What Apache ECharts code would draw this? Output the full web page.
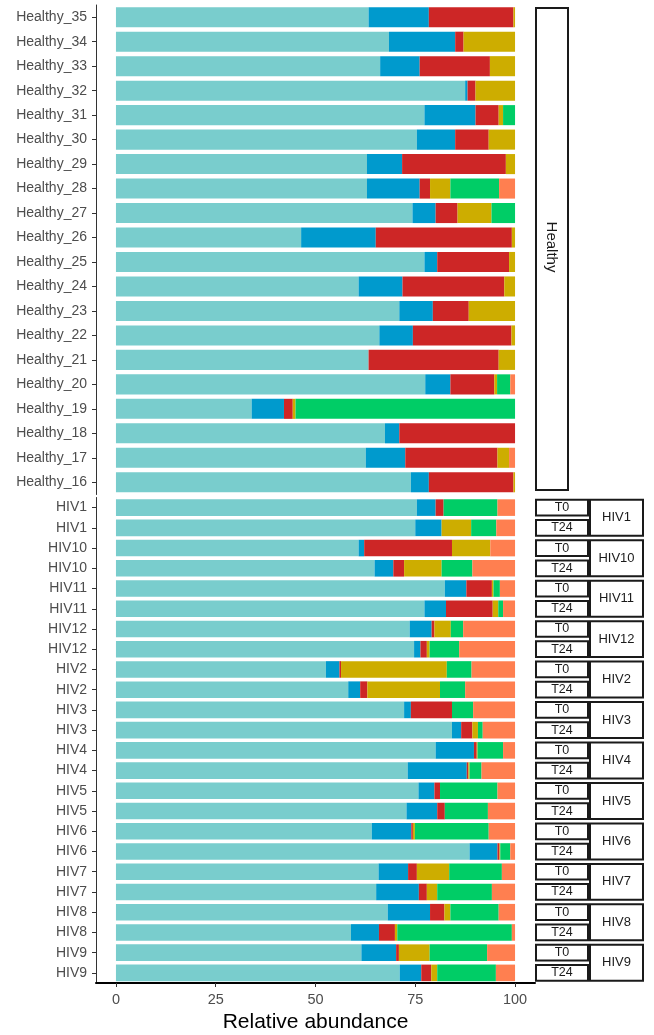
<!DOCTYPE html>
<html>
<head>
<meta charset="utf-8">
<script src="https://cdn.jsdelivr.net/npm/echarts@6/dist/echarts.min.js"></script>
<style>
  html, body { margin: 0; padding: 0; background: #ffffff; }
  #main { width: 654px; height: 1035px; }
</style>
</head>
<body>
<div id="main"></div>
<script>
// ---- categories ----
const healthySamples = [
  'Healthy_35', 'Healthy_34', 'Healthy_33', 'Healthy_32', 'Healthy_31',
  'Healthy_30', 'Healthy_29', 'Healthy_28', 'Healthy_27', 'Healthy_26',
  'Healthy_25', 'Healthy_24', 'Healthy_23', 'Healthy_22', 'Healthy_21',
  'Healthy_20', 'Healthy_19', 'Healthy_18', 'Healthy_17', 'Healthy_16'
];
const hivPatients = ['HIV1', 'HIV10', 'HIV11', 'HIV12', 'HIV2', 'HIV3',
                     'HIV4', 'HIV5', 'HIV6', 'HIV7', 'HIV8', 'HIV9'];
const timepoints = ['T0', 'T24'];
const xTicks = [0, 25, 50, 75, 100];

const taxonNames = ['Taxon 1', 'Taxon 2', 'Taxon 3', 'Taxon 4', 'Taxon 5', 'Taxon 6'];
const taxonColors = ['#79CDCD', '#009ACD', '#CD2626', '#CDAD00', '#00CD66', '#FF7F50'];

// ---- relative abundance (%), healthy donors, top to bottom ----
const healthyTaxon1 = [63.3, 68.4, 66.2, 87.5, 77.3, 75.4, 62.9, 62.9, 74.3, 46.4,
                       77.3, 60.8, 71.0, 66.0, 63.3, 77.5, 34.0, 67.4, 62.6, 73.9];
const healthyTaxon2 = [15.1, 16.6, 9.9, 0.6, 12.8, 9.6, 8.8, 13.2, 5.8, 18.7,
                       3.2, 11.0, 8.4, 8.4, 0.0, 6.3, 8.1, 3.6, 9.9, 4.5];
const healthyTaxon3 = [21.2, 2.1, 17.6, 2.0, 5.8, 8.4, 26.0, 2.6, 5.5, 34.1,
                       18.0, 25.5, 9.0, 24.7, 32.6, 11.0, 2.2, 29.0, 23.1, 21.2];
const healthyTaxon4 = [0.4, 12.9, 6.3, 9.9, 1.1, 6.6, 2.3, 5.1, 8.5, 0.8,
                       1.5, 2.7, 11.6, 0.9, 4.1, 0.7, 0.7, 0.0, 2.9, 0.4];
const healthyTaxon5 = [0.0, 0.0, 0.0, 0.0, 3.0, 0.0, 0.0, 12.2, 5.9, 0.0,
                       0.0, 0.0, 0.0, 0.0, 0.0, 3.3, 55.0, 0.0, 0.0, 0.0];
const healthyTaxon6 = [0.0, 0.0, 0.0, 0.0, 0.0, 0.0, 0.0, 4.0, 0.0, 0.0,
                       0.0, 0.0, 0.0, 0.0, 0.0, 1.2, 0.0, 0.0, 1.5, 0.0];

// ---- relative abundance (%), HIV patients, T0 then T24 for each ----
const hivTaxon1 = [75.4, 75.0, 60.8, 64.8, 82.4, 77.3, 73.6, 74.7, 52.6, 58.2, 72.2, 84.2,
                   80.1, 73.1, 75.8, 72.8, 64.1, 88.6, 65.8, 65.2, 68.1, 58.9, 61.5, 71.1];
const hivTaxon2 = [4.7, 6.6, 1.4, 4.7, 5.4, 5.4, 5.5, 1.6, 3.4, 3.0, 1.7, 2.3,
                   9.6, 14.8, 4.0, 7.7, 9.9, 7.0, 7.4, 10.7, 10.6, 7.0, 8.7, 5.4];
const hivTaxon3 = [2.0, 0.0, 22.0, 2.7, 6.4, 11.7, 0.7, 1.6, 0.4, 1.8, 10.3, 2.8,
                   0.7, 0.4, 1.4, 1.9, 0.4, 0.5, 2.2, 2.0, 3.6, 4.0, 0.7, 2.5];
const hivTaxon4 = [0.0, 7.4, 9.6, 9.4, 0.4, 1.4, 4.1, 0.7, 26.5, 18.2, 0.0, 1.4,
                   0.2, 0.3, 0.0, 0.0, 0.5, 0.2, 8.1, 2.6, 1.5, 0.6, 7.7, 1.5];
const hivTaxon5 = [13.5, 6.3, 0.0, 7.7, 1.6, 1.2, 3.1, 7.4, 6.2, 6.3, 5.3, 1.2,
                   6.4, 3.0, 14.4, 10.8, 18.5, 2.5, 13.2, 13.7, 12.1, 28.7, 14.4, 14.7];
const hivTaxon6 = [4.4, 4.7, 6.2, 10.7, 3.8, 3.0, 13.0, 14.0, 10.9, 12.5, 10.5, 8.1,
                   3.0, 8.4, 4.4, 6.8, 6.6, 1.2, 3.3, 5.8, 4.1, 0.8, 7.0, 4.8];

const healthySeries = [healthyTaxon1, healthyTaxon2, healthyTaxon3, healthyTaxon4, healthyTaxon5, healthyTaxon6];
const hivSeries = [hivTaxon1, hivTaxon2, hivTaxon3, hivTaxon4, hivTaxon5, hivTaxon6];

// one row per patient and timepoint; the label shows only the patient
const hivRows = [];
hivPatients.forEach(p => timepoints.forEach(t => hivRows.push(p + ' ' + t)));

const FONT = '"Liberation Sans", Arial, Helvetica, sans-serif';
const GRID_LEFT = 96, GRID_RIGHT_EDGE = 535;

const chart = echarts.init(document.getElementById('main'), null, { renderer: 'canvas' });

function yAxisFor(gridIndex, data) {
  return {
    type: 'category', gridIndex: gridIndex, data: data, inverse: true,
    axisLine: { show: true, onZero: false, lineStyle: { color: '#333333', width: 1 } },
    axisTick: { show: true, length: 4, alignWithLabel: true, lineStyle: { color: '#333333', width: 1 } },
    axisLabel: {
      color: '#4d4d4d', fontSize: 14, fontFamily: FONT, margin: 9,
      formatter: v => v.split(' ')[0]
    },
    splitLine: { show: false }
  };
}

const series = [];
taxonNames.forEach((name, k) => {
  series.push({
    name: name, type: 'bar', stack: 'healthy', xAxisIndex: 0, yAxisIndex: 0,
    data: healthySeries[k], barCategoryGap: '18%',
    itemStyle: { color: taxonColors[k] }, silent: true
  });
  series.push({
    name: name, type: 'bar', stack: 'hiv', xAxisIndex: 1, yAxisIndex: 1,
    data: hivSeries[k], barCategoryGap: '18%',
    itemStyle: { color: taxonColors[k] }, silent: true
  });
});

chart.setOption({
  animation: false,
  backgroundColor: '#ffffff',
  grid: [
    { left: GRID_LEFT, width: GRID_RIGHT_EDGE - GRID_LEFT, top: 5, height: 489.5 },
    { left: GRID_LEFT, width: GRID_RIGHT_EDGE - GRID_LEFT, top: 497.5, height: 485.5 }
  ],
  xAxis: [
    { type: 'value', gridIndex: 0, min: -5, max: 105, show: false, splitLine: { show: false } },
    {
      type: 'value', gridIndex: 1, min: -5, max: 105,
      name: 'Relative abundance', nameLocation: 'middle', nameGap: 29,
      nameTextStyle: { color: '#000000', fontSize: 21, fontFamily: FONT },
      axisLine: { show: true, onZero: false, lineStyle: { color: '#000000', width: 2 } },
      axisTick: { show: true, length: 4, customValues: xTicks, lineStyle: { color: '#333333' } },
      axisLabel: { color: '#4d4d4d', fontSize: 14.5, fontFamily: FONT, margin: 9, customValues: xTicks },
      splitLine: { show: false }
    }
  ],
  yAxis: [yAxisFor(0, healthySamples), yAxisFor(1, hivRows)],
  series: series
});

// facet strips drawn next to each panel, placed from the category axes
function drawStrips() {
  const elements = [];
  const stroke = '#1a1a1a';
  elements.push({
    type: 'rect', shape: { x: 536, y: 8, width: 32, height: 482 },
    style: { fill: '#ffffff', stroke: stroke, lineWidth: 2 }, silent: true
  });
  elements.push({
    type: 'text', x: 551, y: 247, rotation: -Math.PI / 2,
    style: { text: 'Healthy', fill: '#1a1a1a', fontSize: 15, fontFamily: FONT,
             align: 'center', verticalAlign: 'middle' }, silent: true
  });
  const c0 = chart.convertToPixel({ yAxisIndex: 1 }, hivRows[0]);
  const c1 = chart.convertToPixel({ yAxisIndex: 1 }, hivRows[1]);
  const step = c1 - c0;
  const half = (step - 4.5) / 2;
  hivPatients.forEach((p, i) => {
    const yA = chart.convertToPixel({ yAxisIndex: 1 }, hivRows[2 * i]);
    const yB = chart.convertToPixel({ yAxisIndex: 1 }, hivRows[2 * i + 1]);
    [yA, yB].forEach((yc, j) => {
      elements.push({
        type: 'rect', shape: { x: 536, y: yc - half, width: 52, height: 2 * half },
        style: { fill: '#ffffff', stroke: stroke, lineWidth: 2 }, silent: true
      });
      elements.push({
        type: 'text', x: 562, y: yc,
        style: { text: timepoints[j], fill: '#1a1a1a', fontSize: 12.5, fontFamily: FONT,
                 align: 'center', verticalAlign: 'middle' }, silent: true
      });
    });
    elements.push({
      type: 'rect', shape: { x: 590, y: yA - half, width: 53, height: yB - yA + 2 * half },
      style: { fill: '#ffffff', stroke: stroke, lineWidth: 2 }, silent: true
    });
    elements.push({
      type: 'text', x: 616.5, y: (yA + yB) / 2,
      style: { text: p, fill: '#1a1a1a', fontSize: 13, fontFamily: FONT,
               align: 'center', verticalAlign: 'middle' }, silent: true
    });
  });
  chart.setOption({ graphic: { elements: elements } });
}
drawStrips();
</script>
</body>
</html>
